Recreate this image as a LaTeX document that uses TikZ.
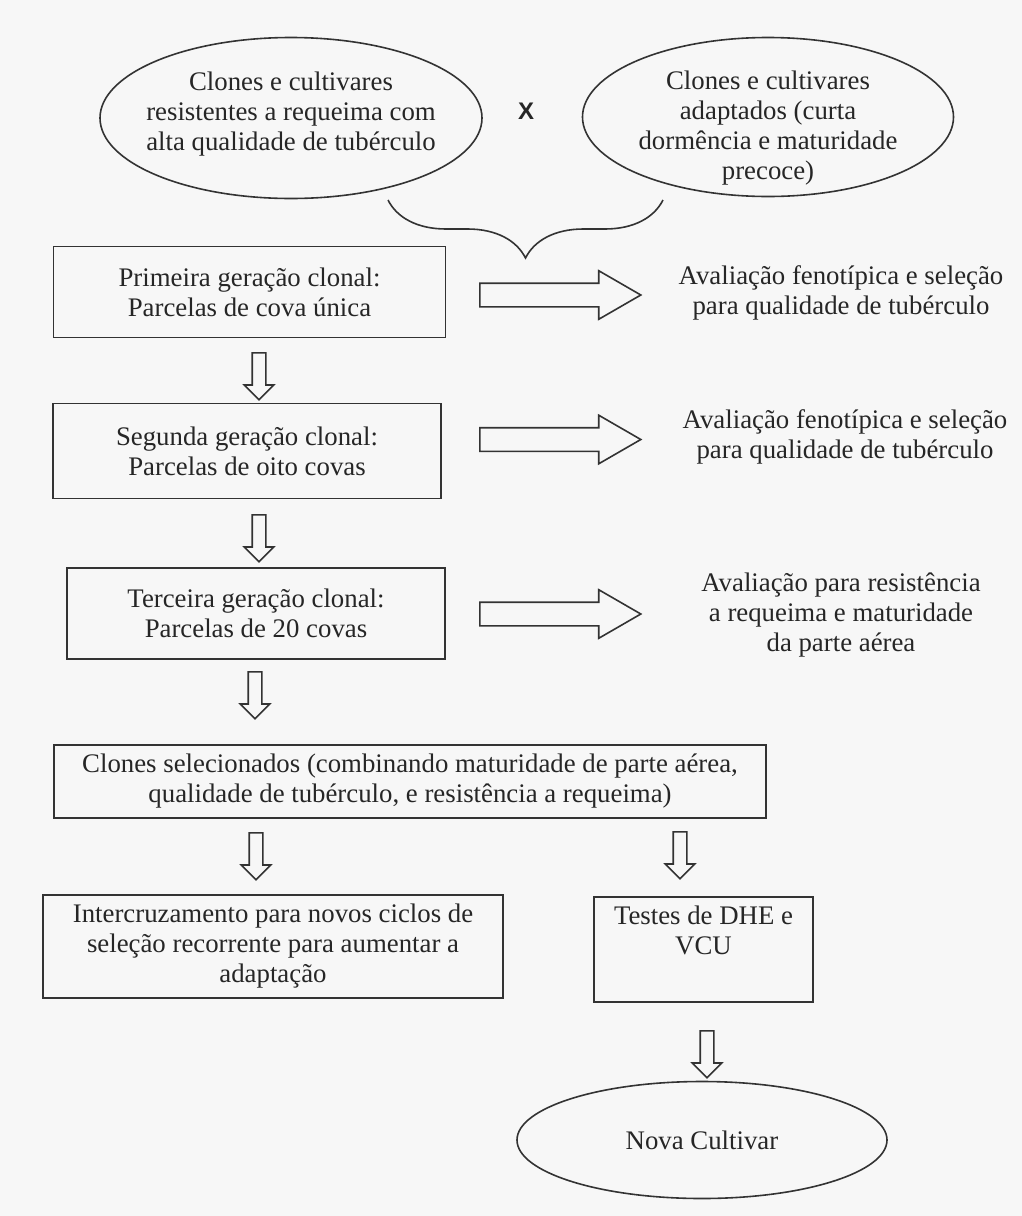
\documentclass[tikz,border=0pt]{standalone}
\usepackage{fontspec}
\setmainfont{Liberation Serif}
\newfontfamily\crossfont{Liberation Sans}
\usetikzlibrary{positioning}
\usetikzlibrary{shapes,arrows}
\usetikzlibrary{decorations.pathreplacing}

\begin{document}
\begin{tikzpicture}[x=1pt, y=-1pt,
			every node/.style = {
				font=\fontsize{26.8}{30}\selectfont, text=black!85
			},
			stepbox/.style = {draw = black!80, line width=1.6pt, align=center, inner sep=0pt},
			parent/.style = {ellipse, draw = black!80, line width=1.6pt, align=center, inner sep=0pt},
			rarrow/.style = {single arrow, draw = black!80, line width=1.6pt, inner sep=11pt,
				anchor=tail, minimum height=161pt, minimum width=47pt,
				single arrow head extend=12.5pt, single arrow tip angle=60},
			darrow/.style = {single arrow, draw = black!80, line width=1.6pt, inner sep=6pt,
				anchor=tail, shape border rotate=270, minimum height=47pt, minimum width=28pt,
				single arrow head extend=8pt}]
			\fill [black!3] (0,0) rectangle (1022,1216);
			\useasboundingbox (0,0) rectangle (1022,1216);
			\node (e1) [parent, minimum width=382pt, minimum height=161pt,
			label = {[align=center, yshift=4pt]center:{Clones e cultivares\\resistentes a requeima com\\alta qualidade de tubérculo}}]
			at (291,118) {};
			\node (cross) [font=\crossfont\bfseries\fontsize{24}{24}\selectfont] at (526,111) {X};
			\node (e2) [parent, minimum width=371pt, minimum height=159pt,
			label = {[align=center, yshift=-11pt]center:{Clones e cultivares\\adaptados (curta\\dormência e maturidade\\precoce)}}]
			at (768,117) {};
			\coordinate (bl) at (388,200);
			\coordinate (br) at (663,200);
			\draw [draw = black!80, line width=1.6pt, decorate,
			decoration = {brace, mirror, amplitude=58pt}] (bl) -- (br);
			\node (gen1) [stepbox, minimum width=392pt, minimum height=91pt] at (249.5,292)
			{Primeira geração clonal:\\Parcelas de cova única};
			\node (gen2) [stepbox, minimum width=388pt, minimum height=95pt] at (247,451)
			{Segunda geração clonal:\\Parcelas de oito covas};
			\node (gen3) [stepbox, minimum width=378pt, minimum height=91pt] at (256,613.5)
			{Terceira geração clonal:\\Parcelas de 20 covas};
			\node (chosen) [stepbox, minimum width=712pt, minimum height=73pt] at (410,781.5)
			{Clones selecionados (combinando maturidade de parte aérea,\\qualidade de tubérculo, e resistência a requeima)};
			\node (recross) [stepbox, minimum width=460pt, minimum height=103pt] at (273,946.5)
			{Intercruzamento para novos ciclos de\\seleção recorrente para aumentar a\\adaptação};
			\node (tests) [stepbox, minimum width=219pt, minimum height=105pt] at (703.5,949.5)
			{Testes de DHE e\\VCU\\\strut};
			\node (cultivar) [parent, minimum width=370pt, minimum height=117pt] at (702,1140)
			{Nova Cultivar};
			\node (arr1) [rarrow] at (479,295) {};
			\node (arr2) [rarrow] at (479,439.5) {};
			\node (arr3) [rarrow] at (479,614) {};
			\node (eval1) [align=center] at (841,292.5)
			{Avaliação fenotípica e seleção\\para qualidade de tubérculo};
			\node (eval2) [align=center] at (845,436.5)
			{Avaliação fenotípica e seleção\\para qualidade de tubérculo};
			\node (eval3) [align=center] at (841,615)
			{Avaliação para resistência\\a requeima e maturidade\\da parte aérea};
			\node (d1) [darrow] at (259,352) {};
			\node (d2) [darrow] at (259,514) {};
			\node (d3) [darrow] at (255,671) {};
			\node (d4) [darrow] at (256,832) {};
			\node (d5) [darrow] at (680,831) {};
			\node (d6) [darrow] at (707,1030) {};
		\end{tikzpicture}
\end{document}
